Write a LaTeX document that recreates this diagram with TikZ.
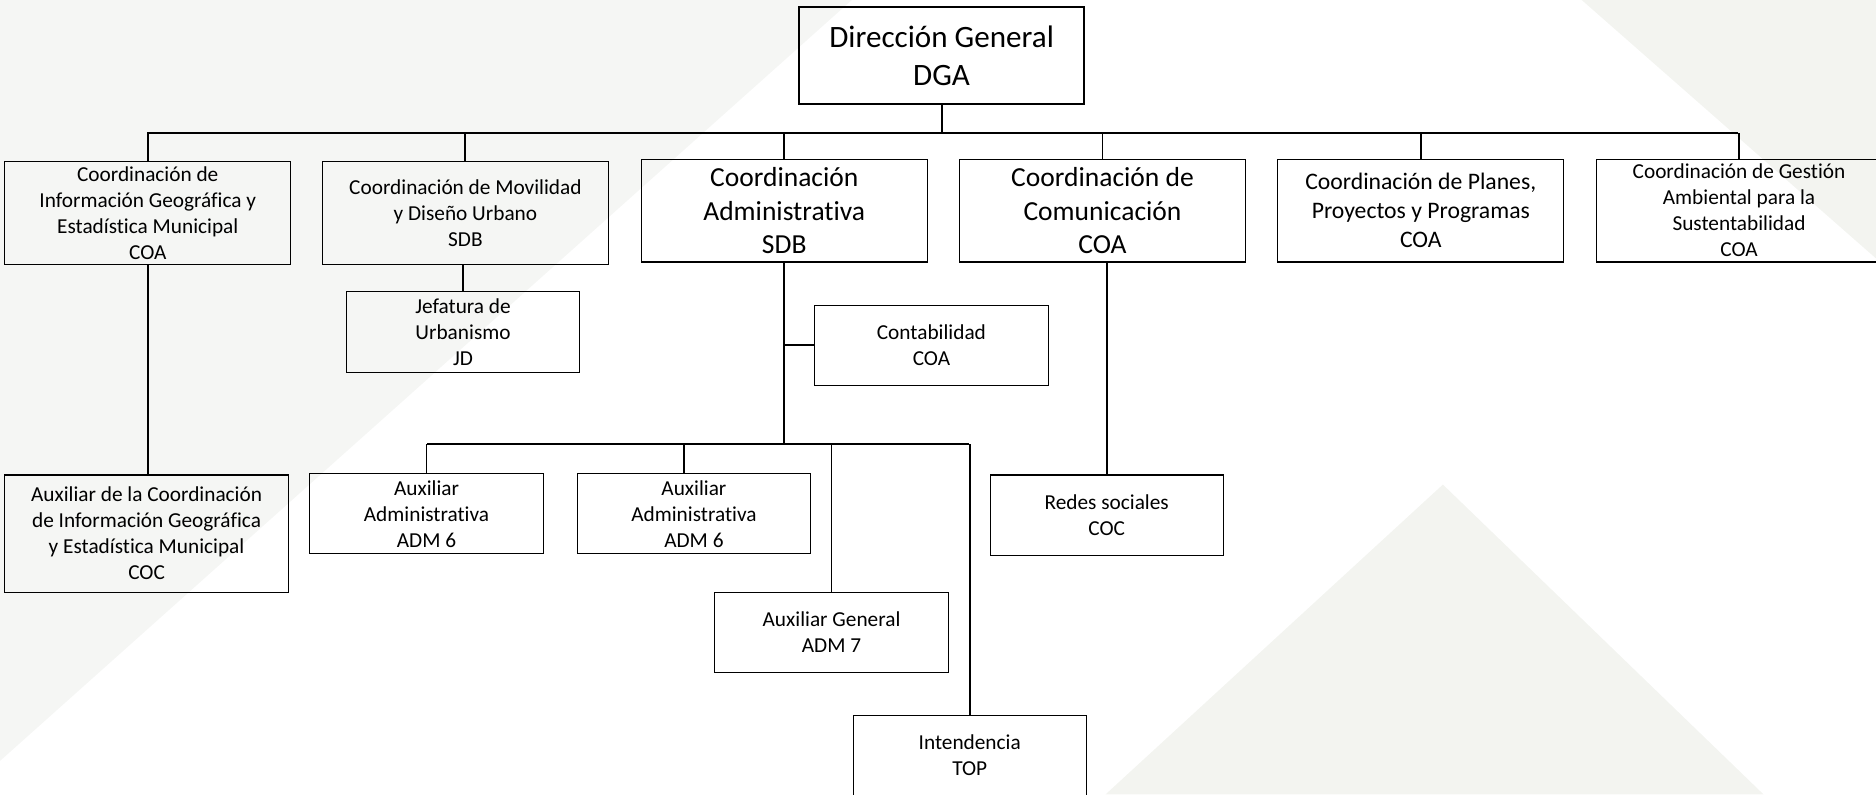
\documentclass[tikz,border=0pt]{standalone}
\usepackage{fontspec}
\setmainfont{Carlito}[RawFeature=-liga, RawFeature=-clig, RawFeature=-calt]
\usepackage{tikz}
\usetikzlibrary{positioning,shapes}
\definecolor{bgA}{RGB}{245,246,244}
\definecolor{bgB}{RGB}{243,244,240}
\tikzstyle{S} = [rectangle,
			draw, line width=0.9pt,
			align=center, inner sep=0pt,
			font=\fontsize{17.8}{21.7}\selectfont,
			minimum width=195pt, minimum height=67pt]
\tikzstyle{W} = [S,
			minimum width=239pt, minimum height=86pt]
\tikzstyle{G} = [W,
			font=\fontsize{23}{28}\selectfont]
\tikzstyle{L} = [draw, line width=1.6pt]
\tikzstyle{B} = [draw, line width=2pt]

\begin{document}
\begin{tikzpicture}[x=1pt, y=-1pt]

\useasboundingbox (0,0) rectangle (1568,664);

% background
\fill[bgA] (0,0) -- (712,0) -- (0,636) -- cycle;
\fill[bgB] (1322,0) -- (1568,0) -- (1568,216) -- cycle;
\fill[bgB] (1206,405) -- (1474,664) -- (924,664) -- cycle;


\node [S, line width=1.6pt, minimum width=238pt, minimum height=81pt,
	font=\fontsize{26}{32}\selectfont] at (787,46.5)
(dga)
	{Dirección General\\DGA};

\node [W] at (123.5,178)
(cig)
	{Coordinación de\\Información Geográfica y\\Estadística Municipal\\COA};

\node [W] at (389,178)
(mov)
	{Coordinación de Movilidad\\y Diseño Urbano\\SDB};

\node [G] at (655.5,176)
(adm)
	{Coordinación\\Administrativa\\SDB};

\node [G] at (921.5,176)
(com)
	{Coordinación de\\Comunicación\\COA};

\node [W, font=\fontsize{19.8}{24.2}\selectfont] at (1187.5,176)
(pla)
	{Coordinación de Planes,\\Proyectos y Programas\\COA};

\node [W] at (1453.5,176)
(ges)
	{Coordinación de Gestión\\Ambiental para la\\Sustentabilidad\\COA};

\node [S, below of =mov, node distance =99.5pt, xshift=-2pt]
(jef)
	{Jefatura de\\Urbanismo\\JD};

\node [S] at (778.5,288.5)
(con)
	{Contabilidad\\COA};

\node [W, minimum width=237pt, minimum height=98pt] at (122.5,446)
(ax0)
	{Auxiliar de la Coordinación\\de Información Geográfica\\y Estadística Municipal\\COC};

\node [S] at (356.5,429.5)
(ax1)
	{Auxiliar\\Administrativa\\ADM 6};

\node [S] at (580,429.5)
(ax2)
	{Auxiliar\\Administrativa\\ADM 6};

\node [S] at (695,528.5)
(axg)
	{Auxiliar General\\ADM 7};

\node [S] at (810.5,631.5)
(int)
	{Intendencia\\TOP};

\node [S, below of =com, node distance =254.5pt, xshift=3.5pt]
(red)
	{Redes sociales\\COC};

\coordinate (b1) at (123,111);
\coordinate (b6) at (1453,111);
\coordinate (b2) at (357,371);
\coordinate (b7) at (810,371);
\coordinate (k2) at (572,371);

\path[B] (b1) -- (b6);

\path[L] (dga) -- (dga |- b1);

\path[L] (cig) -- (cig |- b1);

\path[L] (mov) -- (mov |- b1);

\path[L] (adm) -- (adm |- b1);

\path[L] (com) -- (com |- b1);

\path[L] (pla) -- (pla |- b1);

\path[L] (ges) -- (ges |- b1);

\path[L] (cig.south) -- (cig.south |- ax0.north);

\path[L] (jef.north) -- (jef.north |- mov.south);

\path[L] (adm.south) -- (adm.south |- b2);

\path[L] (con.west) -- (con.west -| adm.south);

\path[B] (b2) -- (b7);

\path[L] (ax1) -- (ax1 |- b2);

\path[L] (k2) -- (k2 |- ax2.north);

\path[L] (axg) -- (axg |- b2);

\path[L] (int) -- (int |- b2);

\path[L] (red.north) -- (red.north |- com.south);

\end{tikzpicture}
\end{document}
